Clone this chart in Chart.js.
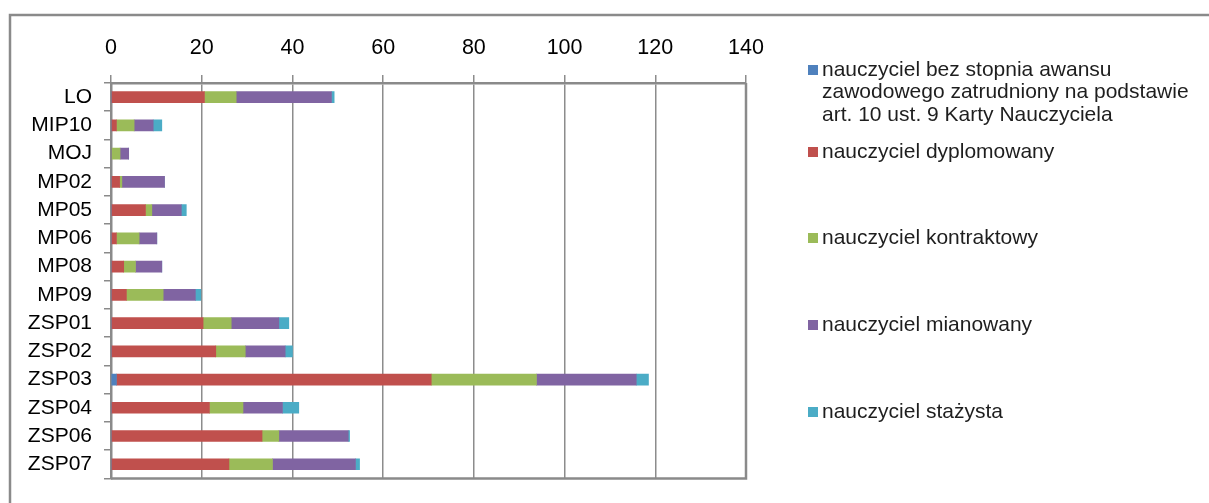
<!DOCTYPE html>
<html>
<head>
    <title>Nauczyciele</title>
    <script src="https://cdn.jsdelivr.net/npm/chart.js"></script>
    <style>
        html, body { margin: 0; padding: 0; background: #fff; }
        #chart-container { width: 1209px; height: 503px; position: relative; }
    </style>
</head>
<body>
<div id="chart-container">
    <canvas id="teacherChart"></canvas>
</div>

<script>
    const categories = ['LO', 'MIP10', 'MOJ', 'MP02', 'MP05', 'MP06', 'MP08', 'MP09',
        'ZSP01', 'ZSP02', 'ZSP03', 'ZSP04', 'ZSP06', 'ZSP07'];

    const seriesNames = [
        ['nauczyciel bez stopnia awansu', 'zawodowego zatrudniony na podstawie', 'art. 10 ust. 9 Karty Nauczyciela'],
        ['nauczyciel dyplomowany'],
        ['nauczyciel kontraktowy'],
        ['nauczyciel mianowany'],
        ['nauczyciel stażysta']
    ];

    const bezStopnia = [0, 0, 0, 0, 0, 0, 0, 0, 0, 0, 1.2, 0, 0, 0];
    const dyplomowany = [20.6, 1.2, 0, 1.9, 7.6, 1.2, 2.8, 3.4, 20.3, 23.1, 69.4, 21.7, 33.3, 26.0];
    const kontraktowy = [7.0, 3.9, 2.0, 0.5, 1.4, 5.0, 2.6, 8.1, 6.2, 6.5, 23.2, 7.4, 3.7, 9.6];
    const mianowany = [21.0, 4.2, 1.9, 9.4, 6.5, 3.9, 5.8, 7.1, 10.5, 8.8, 22.0, 8.7, 15.3, 18.3];
    const stazysta = [0.6, 1.9, 0, 0, 1.1, 0, 0, 1.2, 2.2, 1.6, 2.7, 3.6, 0.3, 0.9];

    const xTicks = [0, 20, 40, 60, 80, 100, 120, 140];

    const colors = ['#4F81BD', '#C0504D', '#9BBB59', '#8064A2', '#4BACC6'];
    const gridGray = '#8c8c8c';
    const fontFamily = '"Liberation Sans", Arial, sans-serif';

    // outer frame, plot box and the legend on the right
    const framePlugin = {
        id: 'frame',
        beforeDraw(chart) {
            const ctx = chart.ctx;
            ctx.save();
            ctx.fillStyle = '#fff';
            ctx.fillRect(0, 0, chart.width, chart.height);
            ctx.strokeStyle = '#8a8a8a';
            ctx.lineWidth = 2.5;
            ctx.beginPath();
            ctx.moveTo(10, chart.height + 5);
            ctx.lineTo(10, 15);
            ctx.lineTo(chart.width + 5, 15);
            ctx.stroke();
            ctx.restore();
        },
        afterDraw(chart) {
            const ctx = chart.ctx;
            const a = chart.chartArea;
            ctx.save();
            ctx.strokeStyle = '#8a8a8a';
            ctx.lineWidth = 2.5;
            ctx.beginPath();
            ctx.moveTo(a.right, a.top);
            ctx.lineTo(a.right, a.bottom);
            ctx.lineTo(a.left, a.bottom);
            ctx.stroke();

            const itemY = [70, 152, 238, 325, 412];
            ctx.font = '21px ' + fontFamily;
            ctx.textBaseline = 'middle';
            chart.data.datasets.forEach(function (ds, i) {
                const y = itemY[i];
                ctx.fillStyle = ds.backgroundColor;
                ctx.fillRect(808, y - 5, 10, 10);
                ctx.fillStyle = '#1e1e1e';
                seriesNames[i].forEach(function (line, j) {
                    ctx.fillText(line, 822, y + j * 22.5);
                });
            });
            ctx.restore();
        }
    };

    const seriesValues = [bezStopnia, dyplomowany, kontraktowy, mianowany, stazysta];

    const ctx = document.getElementById('teacherChart').getContext('2d');
    new Chart(ctx, {
        type: 'bar',
        data: {
            labels: categories,
            datasets: seriesValues.map(function (values, i) {
                return {
                    label: seriesNames[i].join(' '),
                    data: values,
                    backgroundColor: colors[i],
                    borderWidth: 0,
                    barThickness: 11
                };
            })
        },
        options: {
            indexAxis: 'y',
            responsive: true,
            maintainAspectRatio: false,
            animation: false,
            devicePixelRatio: 1,
            layout: {
                padding: { left: 0, top: 0, right: 463, bottom: 20 }
            },
            plugins: {
                legend: { display: false },
                tooltip: { enabled: false }
            },
            scales: {
                x: {
                    position: 'top',
                    stacked: true,
                    min: 0,
                    max: 140,
                    afterBuildTicks: function (scale) {
                        scale.ticks = xTicks.map(v => ({ value: v }));
                    },
                    afterFit: function (scale) {
                        scale.height = 83;
                    },
                    grid: {
                        color: gridGray,
                        lineWidth: 1.5,
                        drawTicks: true,
                        tickLength: 8
                    },
                    border: {
                        display: true,
                        color: '#8a8a8a',
                        width: 2.5
                    },
                    ticks: {
                        color: '#000',
                        padding: 14,
                        font: { family: fontFamily, size: 21.5 }
                    }
                },
                y: {
                    stacked: true,
                    afterFit: function (scale) {
                        scale.width = 111;
                    },
                    grid: {
                        offset: true,
                        drawOnChartArea: false,
                        drawTicks: true,
                        tickLength: 7,
                        color: '#8a8a8a',
                        lineWidth: 1.5
                    },
                    border: {
                        display: true,
                        color: '#8a8a8a',
                        width: 2.5
                    },
                    ticks: {
                        color: '#000',
                        padding: 12,
                        autoSkip: false,
                        font: { family: fontFamily, size: 21 }
                    }
                }
            }
        },
        plugins: [framePlugin]
    });
</script>
</body>
</html>
